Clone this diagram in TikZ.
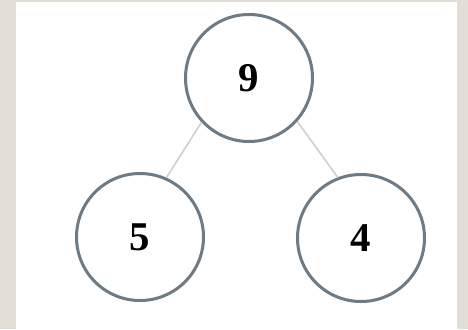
\documentclass[tikz,border=0pt]{standalone}
\usepackage{fontspec}
\setmainfont{Liberation Serif}
\usetikzlibrary{positioning}
\definecolor{paper}{HTML}{E3DED5}
\definecolor{ringgray}{HTML}{6E7A84}
\definecolor{edgegray}{HTML}{CDD1D1}

\begin{document}
\begin{tikzpicture}[x=1bp,y=1bp]
	\tikzstyle{circ}=[draw=ringgray, line width=3bp, circle, minimum size=127bp, inner sep=0pt, font=\fontsize{41}{41}\selectfont\bfseries]
	\tikzstyle{branch}=[draw=edgegray, line width=1.6bp]

	% background and page
	\fill[paper] (0,0) rectangle (468,329);
	\fill[white] (16,0) rectangle (457,327);
	\useasboundingbox (0,0) rectangle (468,329);

	\node[circ] (num9) at (249,251) {9};
	\node[circ] (num5) [on grid, below left=159bp and 109bp of num9] {5};
	\node[circ] (num4) [on grid, below right=160bp and 112bp of num9] {4};

	\draw[branch] (num9.-137) -- (num5.66);
	\draw[branch] (num9.-42) -- (num4.111);
\end{tikzpicture}
\end{document}
